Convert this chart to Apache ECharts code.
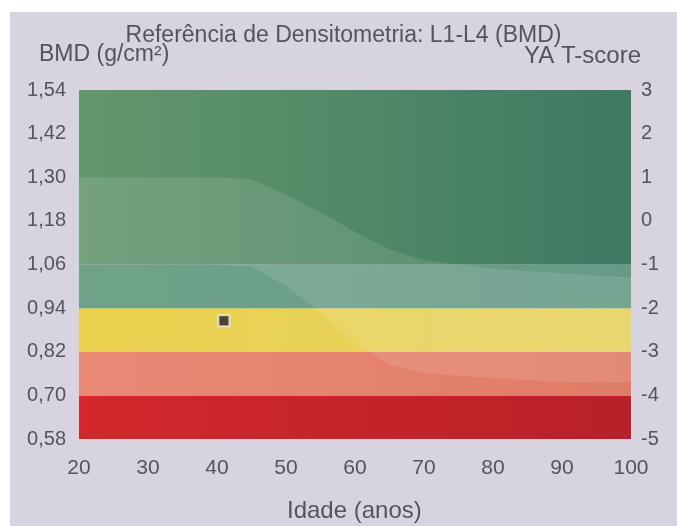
<!DOCTYPE html>
<html>
<head>
<meta charset="utf-8">
<script src="https://cdn.jsdelivr.net/npm/echarts@6/dist/echarts.min.js"></script>
<style>
  html, body { margin: 0; padding: 0; background: #ffffff; }
  #chart { position: absolute; left: 10px; top: 12px; width: 667px; height: 514px; }
</style>
</head>
<body>
<div id="chart"></div>
<script>
// Age axis ticks (years)
const ageTicks = [20, 30, 40, 50, 60, 70, 80, 90, 100];
// Young-adult T-score ticks (right axis) and the matching BMD labels (left axis)
const tScoreTicks = [-5, -4, -3, -2, -1, 0, 1, 2, 3];
const bmdTickLabels = ['0,58', '0,70', '0,82', '0,94', '1,06', '1,18', '1,30', '1,42', '1,54'];
// BMD of the young-adult mean and one standard deviation (g/cm²)
const youngAdultMean = 1.18;
const youngAdultSD = 0.12;

// Classification bands by T-score
const bandLower = [-5, -4, -3, -2, -1];
const bandUpper = [-4, -3, -2, -1, 3];
const bandColorsLeft = ['#d3282c', '#e98a76', '#ead24e', '#6fa389', '#64976c'];
const bandColorsRight = ['#b72127', '#df7c66', '#e6d160', '#669a86', '#3d7a62'];

// Age-matched reference envelope (±1 SD), in T-score units
const refAges = [20, 25, 30, 35, 40, 45, 50, 55, 60, 65, 70, 75, 80, 85, 90, 95, 100];
const refUpper = [1, 1, 1, 1, 1, 0.95, 0.6, 0.2, -0.25, -0.65, -0.9, -1.0, -1.1, -1.15, -1.2, -1.25, -1.3];
const refLower = [-1, -1, -1, -1, -1, -1.05, -1.5, -2.1, -2.8, -3.3, -3.5, -3.55, -3.6, -3.65, -3.7, -3.7, -3.7];

// Patient measurement
const patientAge = [41];
const patientBMD = [0.905];

const toT = b => (b - youngAdultMean) / youngAdultSD;

const chart = echarts.init(document.getElementById('chart'));

const bandAreas = bandLower.map((lo, i) => [
  {
    yAxis: lo,
    itemStyle: {
      color: {
        type: 'linear', x: 0, y: 0, x2: 1, y2: 0,
        colorStops: [
          { offset: 0, color: bandColorsLeft[i] },
          { offset: 1, color: bandColorsRight[i] }
        ]
      }
    }
  },
  { yAxis: bandUpper[i] }
]);

// Envelope polygon: upper curve left to right, then lower curve back
function renderEnvelope(params, api) {
  const pts = [];
  refAges.forEach((a, i) => pts.push(api.coord([a, refUpper[i]])));
  for (let i = refAges.length - 1; i >= 0; i--) pts.push(api.coord([refAges[i], refLower[i]]));
  return {
    type: 'polygon',
    shape: { points: pts },
    style: { fill: 'rgba(255,255,255,0.11)' },
    silent: true
  };
}

const textColor = '#57525e';
const fontFamily = 'Liberation Sans, Arial, sans-serif';

chart.setOption({
  backgroundColor: '#d7d3df',
  animation: false,
  grid: { left: 69, right: 46, top: 78, bottom: 87 },
  graphic: [
    { type: 'text', left: 'center', top: 12,
      style: { text: 'Referência de Densitometria: L1-L4 (BMD)', fill: textColor, font: '23px ' + fontFamily } },
    { type: 'text', left: 29, top: 31,
      style: { text: 'BMD (g/cm²)', fill: textColor, font: '23px ' + fontFamily } },
    { type: 'text', right: 36, top: 32,
      style: { text: 'YA T-score', fill: textColor, font: '24px ' + fontFamily } },
    { type: 'text', left: 277, top: 487,
      style: { text: 'Idade (anos)', fill: textColor, font: '24px ' + fontFamily } }
  ],
  xAxis: {
    type: 'value', min: 20, max: 100, interval: 10,
    axisLine: { show: false }, axisTick: { show: false }, splitLine: { show: false },
    axisLabel: { color: textColor, fontSize: 21, fontFamily: fontFamily, margin: 19 }
  },
  yAxis: [
    {
      type: 'value', min: -5, max: 3, interval: 1, position: 'left',
      axisLine: { show: false }, axisTick: { show: false }, splitLine: { show: false },
      axisLabel: {
        color: textColor, fontSize: 20, fontFamily: fontFamily, margin: 13,
        formatter: v => bmdTickLabels[tScoreTicks.indexOf(Math.round(v))]
      }
    },
    {
      type: 'value', min: -5, max: 3, interval: 1, position: 'right',
      axisLine: { show: false }, axisTick: { show: false }, splitLine: { show: false },
      axisLabel: { color: textColor, fontSize: 20, fontFamily: fontFamily, margin: 10 }
    }
  ],
  series: [
    {
      name: 'bands', type: 'line', data: [], silent: true,
      markArea: { silent: true, data: bandAreas }
    },
    {
      name: 'reference', type: 'custom', silent: true, z: 3,
      data: [0],
      renderItem: renderEnvelope,
      clip: true
    },
    {
      name: 'patient', type: 'scatter', z: 5,
      data: patientAge.map((a, i) => [a, toT(patientBMD[i])]),
      symbol: 'rect', symbolSize: 11,
      itemStyle: { color: '#231f22', borderColor: '#ece8ef', borderWidth: 2 }
    }
  ]
});
</script>
</body>
</html>
